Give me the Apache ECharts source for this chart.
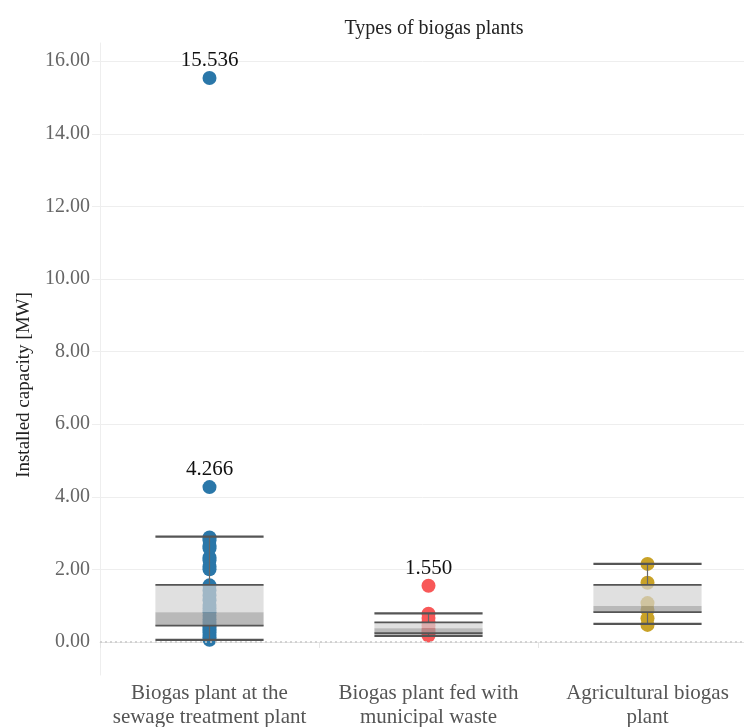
<!DOCTYPE html>
<html>
<head>
<meta charset="utf-8">
<script src="https://cdn.jsdelivr.net/npm/echarts@6/dist/echarts.min.js"></script>
<style>
html,body{margin:0;padding:0;background:#fff;}
#chart{width:744px;height:727px;}
</style>
</head>
<body>
<div id="chart"></div>
<script>
// ---- data ----
var categories = ['Biogas plant at the\nsewage treatment plant', 'Biogas plant fed with\nmunicipal waste', 'Agricultural biogas\nplant'];
var sewageValues = [15.536, 4.266, 2.88, 2.80, 2.65, 2.58, 2.33, 2.25, 2.08, 2.00, 1.56, 1.42, 1.28, 1.15, 1.02, 0.92, 0.82, 0.72, 0.62, 0.52, 0.43, 0.35, 0.27, 0.19, 0.12, 0.06];
var municipalValues = [1.550, 0.78, 0.66, 0.55, 0.45, 0.36, 0.27, 0.18];
var agriculturalValues = [2.15, 1.63, 1.07, 0.88, 0.65, 0.47];
var labeledValues = [15.536, 4.266, 1.550];
var boxMin = [0.055, 0.17, 0.50];
var boxQ1 = [0.45, 0.24, 0.82];
var boxMedian = [0.82, 0.38, 0.99];
var boxQ3 = [1.57, 0.54, 1.57];
var boxMax = [2.90, 0.79, 2.15];
var yTicks = [0, 2, 4, 6, 8, 10, 12, 14, 16];
var gridTicks = [2, 4, 6, 8, 10, 12, 14, 16];

var FONT = '"Liberation Serif", "Times New Roman", serif';
var colors = ['#2a77a9', '#f85858', '#c9a227'];
var seriesValues = [sewageValues, municipalValues, agriculturalValues];

function scatterSeries(idx) {
  return {
    type: 'scatter',
    z: 2,
    symbolSize: 14,
    itemStyle: { color: colors[idx], opacity: 1 },
    data: seriesValues[idx].map(function (v) {
      var lab = labeledValues.indexOf(v) >= 0;
      return {
        value: [idx, v],
        label: {
          show: lab,
          position: 'top',
          distance: 0,
          formatter: v.toFixed(3),
          color: '#111',
          fontFamily: FONT,
          fontSize: 21
        }
      };
    })
  };
}

var boxData = categories.map(function (c, i) {
  return [i, boxMin[i], boxQ1[i], boxMedian[i], boxQ3[i], boxMax[i]];
});

var option = {
  animation: false,
  backgroundColor: '#fff',
  title: {
    text: 'Types of biogas plants',
    left: 429,
    top: 14,
    textAlign: 'center',
    textStyle: { fontFamily: FONT, fontSize: 20, fontWeight: 'normal', color: '#222' }
  },
  grid: { left: 100, width: 657, top: 43, height: 632, containLabel: false, outerBoundsMode: 'none' },
  xAxis: {
    type: 'category',
    data: categories,
    boundaryGap: true,
    axisLine: { show: true, lineStyle: { color: '#e4e4e4', width: 1 } },
    axisTick: { show: true, length: 6, lineStyle: { color: '#e4e4e4' } },
    axisLabel: { color: '#555', fontFamily: FONT, fontSize: 21, lineHeight: 24, margin: 6, interval: 0 },
    splitLine: { show: false }
  },
  yAxis: {
    type: 'value',
    min: -0.91,
    max: 16.5,
    axisLine: { show: true, lineStyle: { color: '#eeeeee' } },
    axisTick: { show: true, length: 8, customValues: gridTicks, lineStyle: { color: '#eeeeee' } },
    axisLabel: {
      customValues: yTicks,
      color: '#666',
      fontFamily: FONT,
      fontSize: 20,
      margin: 10,
      formatter: function (v) { return v.toFixed(2); }
    },
    splitLine: { show: true, lineStyle: { color: '#eeeeee', width: 1 } }
  },
  graphic: [{
    type: 'text',
    x: 24,
    y: 385,
    rotation: Math.PI / 2,
    style: {
      text: 'Installed capacity [MW]',
      fontFamily: FONT,
      fontSize: 19,
      fill: '#222',
      align: 'center',
      verticalAlign: 'middle'
    }
  }],
  series: [
    {
      type: 'line',
      data: [],
      silent: true,
      markLine: {
        symbol: 'none',
        silent: true,
        label: { show: false },
        lineStyle: { color: '#c8c8c8', type: [2, 3], width: 1.5 },
        data: [{ yAxis: 0 }]
      }
    },
    scatterSeries(0),
    scatterSeries(1),
    scatterSeries(2),
    {
      type: 'custom',
      z: 5,
      silent: true,
      data: boxData,
      encode: { x: 0, y: [1, 2, 3, 4, 5] },
      renderItem: function (params, api) {
        var i = api.value(0);
        var band = api.size([1, 0])[0];
        var hw = band * 0.247;
        var cx = api.coord([i, 0])[0];
        var yMin = api.coord([i, api.value(1)])[1];
        var yQ1 = api.coord([i, api.value(2)])[1];
        var yMed = api.coord([i, api.value(3)])[1];
        var yQ3 = api.coord([i, api.value(4)])[1];
        var yMax = api.coord([i, api.value(5)])[1];
        var lineCol = '#555';
        function hline(y, w) {
          return { type: 'line', shape: { x1: cx - hw, y1: y, x2: cx + hw, y2: y }, style: { stroke: lineCol, lineWidth: w } };
        }
        return {
          type: 'group',
          children: [
            { type: 'rect', shape: { x: cx - hw, y: yQ3, width: hw * 2, height: yMed - yQ3 }, style: { fill: 'rgba(211,211,211,0.7)' } },
            { type: 'rect', shape: { x: cx - hw, y: yMed, width: hw * 2, height: yQ1 - yMed }, style: { fill: 'rgba(155,155,155,0.7)' } },
            { type: 'line', shape: { x1: cx, y1: yMax, x2: cx, y2: yQ3 }, style: { stroke: '#666', lineWidth: 1.2 } },
            { type: 'line', shape: { x1: cx, y1: yQ1, x2: cx, y2: yMin }, style: { stroke: '#666', lineWidth: 1.2 } },
            hline(yQ3, 1.8),
            hline(yQ1, 1.8),
            hline(yMax, 2.2),
            hline(yMin, 2.2)
          ]
        };
      }
    }
  ]
};

var chart = echarts.init(document.getElementById('chart'), null, { renderer: 'canvas' });
chart.setOption(option);
</script>
</body>
</html>
